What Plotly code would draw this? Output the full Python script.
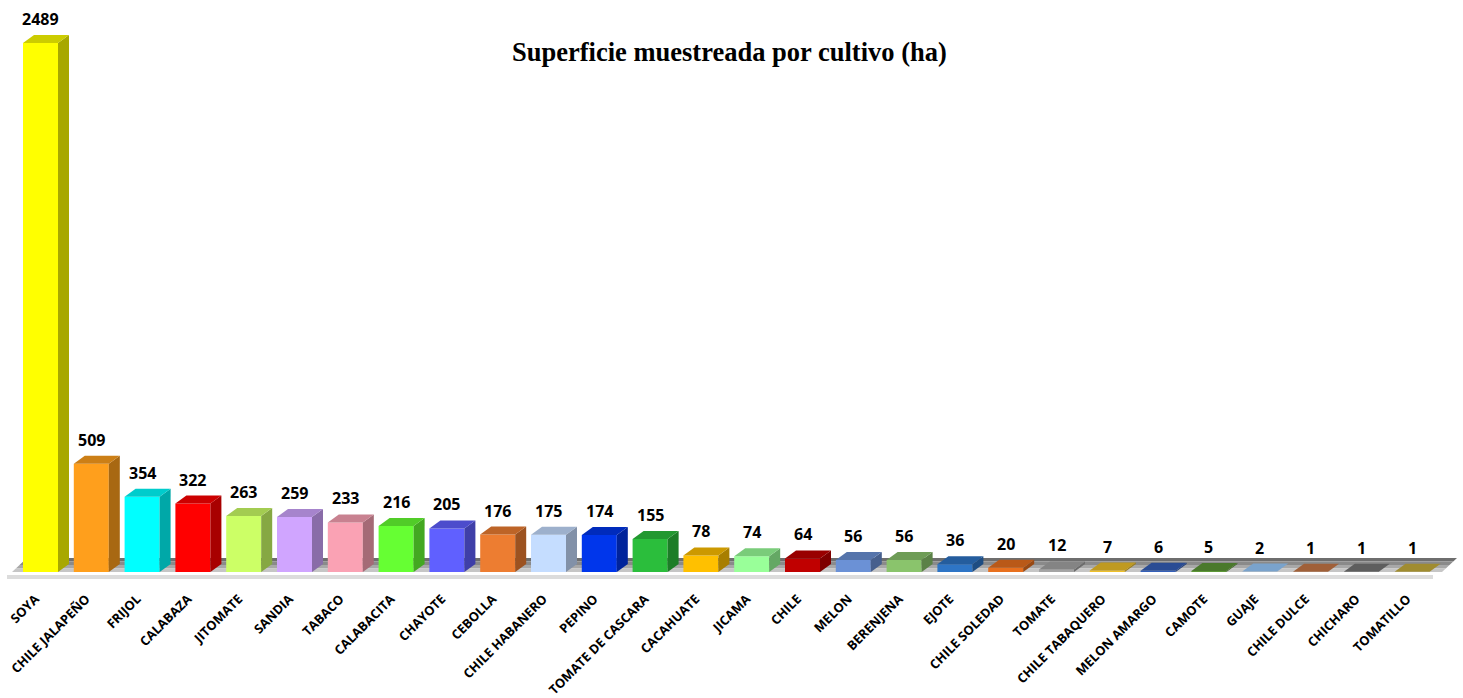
import plotly.graph_objects as go

categories = ["SOYA", "CHILE JALAPEÑO", "FRIJOL", "CALABAZA", "JITOMATE", "SANDIA", "TABACO",
              "CALABACITA", "CHAYOTE", "CEBOLLA", "CHILE HABANERO", "PEPINO", "TOMATE DE CASCARA",
              "CACAHUATE", "JICAMA", "CHILE", "MELON", "BERENJENA", "EJOTE", "CHILE SOLEDAD",
              "TOMATE", "CHILE TABAQUERO", "MELON AMARGO", "CAMOTE", "GUAJE", "CHILE DULCE",
              "CHICHARO", "TOMATILLO"]
values = [2489, 509, 354, 322, 263, 259, 233, 216, 205, 176, 175, 174, 155, 78, 74, 64, 56, 56,
          36, 20, 12, 7, 6, 5, 2, 1, 1, 1]
colors = ["#FFFF00", "#FF9F1C", "#00FFFF", "#FF0000", "#CCFF66", "#D0A5FF", "#FAA2B4",
          "#66FF33", "#6060FF", "#ED7D31", "#C5DDFF", "#0036EB", "#2BBE3C", "#FFC000",
          "#99FF99", "#C00000", "#6B91D6", "#8AC46C", "#2E75C6", "#E8701E", "#A5A5A5",
          "#EFC12A", "#3560B9", "#5D9837", "#99CCFF", "#C87848", "#767676", "#C8AF3C"]

title_text = "Superficie muestreada por cultivo (ha)"

# page body margin is removed in the html (post_script), so figure starts at 0,0
W, H = 1463, 698
px_per_cat = 50.8
x0_px = 40.5
base_px = 572
top_val_px = 43
px_per_val = (base_px - top_val_px) / max(values)
ml, mr, mt, mb = 0, 0, 0, 118
xr = [(ml - x0_px) / px_per_cat, (W - mr - x0_px) / px_per_cat]
yr = [-(H - mb - base_px) / px_per_val, (base_px - mt) / px_per_val]

bw = 35 / px_per_cat
ddx = 11 / px_per_cat
ddy = 8 / px_per_val


def shade(hexc, f):
    h = hexc.lstrip("#")
    r, g, b = (int(h[i:i + 2], 16) for i in (0, 2, 4))
    return "#%02X%02X%02X" % (int(r * f), int(g * f), int(b * f))


def poly(xs, ys, color):
    return go.Scatter(x=xs + [xs[0]], y=ys + [ys[0]], fill="toself", fillcolor=color,
                      line=dict(width=0), mode="lines", hoverinfo="skip", showlegend=False)


fig = go.Figure()

# floor
fl_left = (12 - x0_px) / px_per_cat
fl_right = (1442 - x0_px) / px_per_cat
fdx = 15 / px_per_cat
fdy = 14 / px_per_val
bands = ["#6E6E6E", "#8A8A8A", "#A8A8A8", "#C6C6C6"]
nb = len(bands)
for k, c in enumerate(bands):
    t0 = 1 - k / nb
    t1 = 1 - (k + 1) / nb
    xs = [fl_left + fdx * t0, fl_right + fdx * t0, fl_right + fdx * t1, fl_left + fdx * t1]
    ys = [fdy * t0, fdy * t0, fdy * t1, fdy * t1]
    fig.add_trace(poly(xs, ys, c))
# floor front edge line
ly0 = -3 / px_per_val
ly1 = -7 / px_per_val
lx0 = (7 - x0_px) / px_per_cat
lx1 = (1433 - x0_px) / px_per_cat
fig.add_trace(poly([lx0, lx1, lx1, lx0], [ly0, ly0, ly1, ly1], "#DCDCDC"))

# bars: front, side and top faces
for i, (v, c) in enumerate(zip(values, colors)):
    xl, xrgt = i - bw / 2, i + bw / 2
    fig.add_trace(poly([xl, xrgt, xrgt, xl], [0, 0, v, v], c))
    fig.add_trace(poly([xrgt, xrgt + ddx, xrgt + ddx, xrgt], [0, ddy, v + ddy, v], shade(c, 0.66)))
    fig.add_trace(poly([xl, xrgt, xrgt + ddx, xl + ddx], [v, v, v + ddy, v + ddy], shade(c, 0.8)))

# value labels
for i, v in enumerate(values):
    fig.add_annotation(x=i, y=v, text=str(v), showarrow=False, yanchor="bottom", yshift=11,
                       font=dict(family="Open Sans", size=16, color="#000000", weight="bold"))

# title
plot_h = H - mt - mb
fig.add_annotation(x=729.5 / W, y=1 - (52 - mt) / plot_h, xref="paper", yref="paper",
                   text="<b>" + title_text + "</b>", showarrow=False, xanchor="center",
                   yanchor="middle",
                   font=dict(family="Liberation Serif", size=26.5, color="#000000"))

xi = list(range(len(categories)))
fig.update_layout(
    width=W, height=H,
    margin=dict(l=ml, r=mr, t=mt, b=mb, autoexpand=False),
    paper_bgcolor="#FFFFFF", plot_bgcolor="#FFFFFF",
    hovermode=False,
    xaxis=dict(range=xr, tickmode="array", tickvals=xi, ticktext=categories, tickangle=-45,
               showgrid=False, zeroline=False, showline=False, ticks="", automargin=False,
               ticklabelshift=-5, ticklabelstandoff=8, ticklabeloverflow="allow",
               fixedrange=True,
               tickfont=dict(family="Open Sans", size=12.8, color="#000000", weight="bold")),
    yaxis=dict(range=yr, visible=False, showgrid=False, zeroline=False, automargin=False,
               fixedrange=True),
)

fig.write_html("out.html", config={"displayModeBar": False},
               post_script="document.body.style.margin='0px';document.body.style.overflow='hidden';")
